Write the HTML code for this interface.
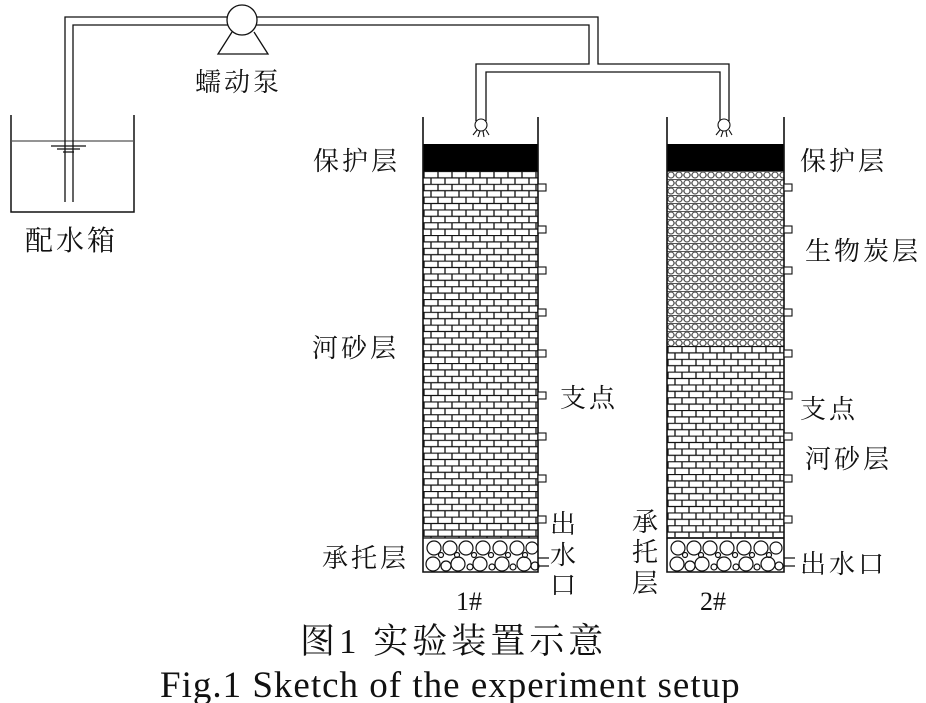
<!DOCTYPE html>
<html><head><meta charset="utf-8"><style>
body{margin:0;background:#fff}
svg{display:block}
text{font-family:"Liberation Serif","Noto Serif CJK SC",serif;fill:#111}
.c{font-family:"Liberation Serif","Noto Serif CJK SC",serif;font-size:26px;letter-spacing:3px}
</style></head><body>
<svg width="926" height="703" viewBox="0 0 926 703" xmlns="http://www.w3.org/2000/svg">
<defs>
<pattern id="br" x="423" y="171" width="14" height="12.8" patternUnits="userSpaceOnUse">
<rect width="14" height="12.8" fill="#fff"/>
<path d="M0 0.5H14M0 6.9H14M1 0V6.4M8 6.4V12.8" stroke="#111" stroke-width="1.3" fill="none"/>
</pattern>
<pattern id="br2" x="667" y="346" width="14" height="12.8" patternUnits="userSpaceOnUse">
<rect width="14" height="12.8" fill="#fff"/>
<path d="M0 0.5H14M0 6.9H14M1 0V6.4M8 6.4V12.8" stroke="#111" stroke-width="1.3" fill="none"/>
</pattern>
<pattern id="bc" x="667" y="171" width="8" height="8" patternUnits="userSpaceOnUse">
<rect width="8" height="8" fill="#fff"/>
<circle cx="4" cy="4" r="3" fill="none" stroke="#555" stroke-width="1.2"/>
<path d="M0 0.5H8M0 4H1M7 4H8" stroke="#555" stroke-width="1"/>
</pattern>
<g id="gr" fill="none" stroke="#111" stroke-width="1.2">
<circle cx="9" cy="9" r="7"/><circle cx="16" cy="16" r="2.5"/><circle cx="25" cy="9" r="7"/><circle cx="32" cy="16" r="2.5"/><circle cx="41" cy="9" r="7"/><circle cx="49" cy="16" r="2.5"/><circle cx="58" cy="9" r="7"/><circle cx="66" cy="16" r="2.5"/><circle cx="75" cy="9" r="7"/><circle cx="83" cy="16" r="2.5"/><circle cx="92" cy="9" r="7"/><circle cx="100" cy="16" r="2.5"/><circle cx="107" cy="9" r="6"/>
<circle cx="8" cy="25" r="7"/><circle cx="21" cy="27" r="5"/><circle cx="33" cy="25" r="7"/><circle cx="45" cy="28" r="3"/><circle cx="55" cy="25" r="7"/><circle cx="67" cy="28" r="3"/><circle cx="77" cy="25" r="7"/><circle cx="88" cy="28" r="3"/><circle cx="99" cy="25" r="7"/><circle cx="110" cy="27" r="4"/>
</g>
</defs>

<path d="M11 115V212H134V115" fill="none" stroke="#111" stroke-width="1.5"/>
<line x1="11" y1="141" x2="134" y2="141" stroke="#555" stroke-width="1.3"/>
<path d="M51 146H86M57 149H80M63 152H74" stroke="#111" stroke-width="1.3"/>
<g fill="none" stroke="#111" stroke-width="1.3">
<path d="M65 202V17H598V64H729V121"/>
<path d="M73 202V25H589V64H476V121"/>
<path d="M486 121V72H720V121"/>
</g>
<path d="M232 32L218 54H268L254 32" fill="none" stroke="#111" stroke-width="1.3"/>
<circle cx="242" cy="20" r="15" fill="#fff" stroke="#111" stroke-width="1.3"/>
<g fill="#fff" stroke="#111" stroke-width="1.1">
<circle cx="481" cy="125" r="6"/><path d="M473 135L477 130M478 137L480 131M484 137L483 131M489 135L486 130" fill="none"/>
<circle cx="724" cy="125" r="6"/><path d="M716 135L720 130M721 137L723 131M727 137L726 131M732 135L729 130" fill="none"/>
</g>

<rect x="423" y="144" width="115" height="27" fill="#000"/>
<rect x="423" y="171" width="115" height="367" fill="url(#br)"/>
<use href="#gr" x="425" y="539"/>
<line x1="423" y1="538" x2="538" y2="538" stroke="#111" stroke-width="1.2"/>
<path d="M423 117V572H538V117" fill="none" stroke="#111" stroke-width="1.6"/>
<g fill="#fff" stroke="#111" stroke-width="1.1">
<rect x="538" y="184" width="8" height="7"/><rect x="538" y="226" width="8" height="7"/><rect x="538" y="267" width="8" height="7"/><rect x="538" y="309" width="8" height="7"/><rect x="538" y="350" width="8" height="7"/><rect x="538" y="392" width="8" height="7"/><rect x="538" y="433" width="8" height="7"/><rect x="538" y="475" width="8" height="7"/><rect x="538" y="516" width="8" height="7"/>
</g>
<path d="M538 558H549M538 566H549" stroke="#111" stroke-width="1.3"/>

<rect x="667" y="144" width="117" height="27" fill="#000"/>
<rect x="667" y="171" width="117" height="175" fill="url(#bc)"/>
<rect x="667" y="346" width="117" height="192" fill="url(#br2)"/>
<use href="#gr" x="669" y="539"/>
<line x1="667" y1="538" x2="784" y2="538" stroke="#333" stroke-width="2"/>
<path d="M667 117V572H784V117" fill="none" stroke="#111" stroke-width="1.6"/>
<g fill="#fff" stroke="#111" stroke-width="1.1">
<rect x="784" y="184" width="8" height="7"/><rect x="784" y="226" width="8" height="7"/><rect x="784" y="267" width="8" height="7"/><rect x="784" y="309" width="8" height="7"/><rect x="784" y="350" width="8" height="7"/><rect x="784" y="392" width="8" height="7"/><rect x="784" y="433" width="8" height="7"/><rect x="784" y="475" width="8" height="7"/><rect x="784" y="516" width="8" height="7"/>
</g>
<path d="M784 558H795M784 566H795" stroke="#111" stroke-width="1.3"/>

<text class="c" x="195" y="91">蠕动泵</text>
<text class="c" x="25" y="250" style="font-size:28px">配水箱</text>
<text class="c" x="313" y="170">保护层</text>
<text class="c" x="312" y="357">河砂层</text>
<text class="c" x="560" y="407">支点</text>
<text class="c" x="322" y="567">承托层</text>
<text class="c" x="550" y="533">出</text>
<text class="c" x="550" y="564">水</text>
<text class="c" x="550" y="594">口</text>
<text class="c" x="800" y="170">保护层</text>
<text class="c" x="805" y="260">生物炭层</text>
<text class="c" x="800" y="418">支点</text>
<text class="c" x="805" y="468">河砂层</text>
<text class="c" x="800" y="573">出水口</text>
<text class="c" x="632" y="531">承</text>
<text class="c" x="632" y="561">托</text>
<text class="c" x="632" y="592">层</text>
<text x="456" y="610" style="font-size:26px">1#</text>
<text x="700" y="610" style="font-size:26px">2#</text>
<text x="300" y="653" style="font-size:35px;letter-spacing:4px">图1 实验装置示意</text>
<text x="160" y="697" style="font-size:37px;letter-spacing:1px">Fig.1  Sketch of the experiment setup</text>
</svg>
</body></html>
